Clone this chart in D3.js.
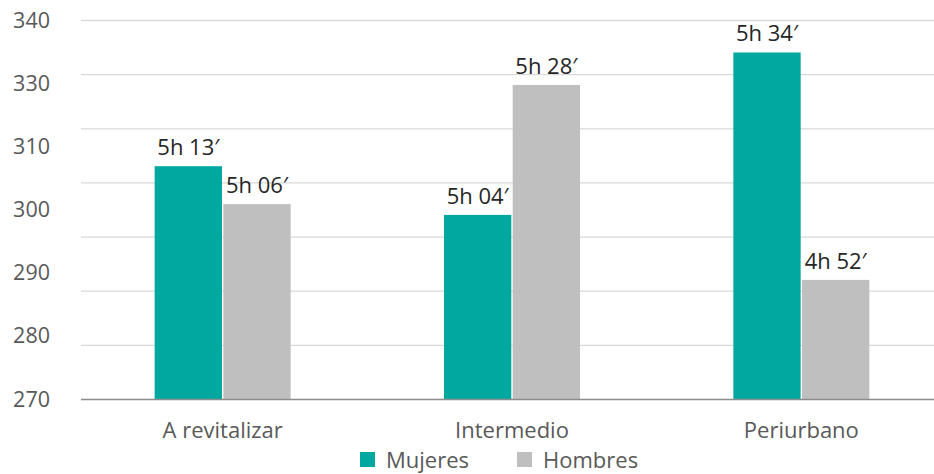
<!DOCTYPE html>
<html><head><meta charset="utf-8">
<script src="https://cdn.jsdelivr.net/npm/d3@7"></script>
<style>body{margin:0;background:#fff;}svg{display:block;font-family:"Open Sans","Noto Sans",sans-serif;}</style>
</head><body><svg id="c" width="934" height="474"></svg>
<script>
const categories = ["A revitalizar", "Intermedio", "Periurbano"];
const series = ["Mujeres", "Hombres"];
const mujeres = [313, 304, 334];
const hombres = [306, 328, 292];
const mujeresLabels = ["5h 13′", "5h 04′", "5h 34′"];
const hombresLabels = ["5h 06′", "5h 28′", "4h 52′"];
const gridValues = [270, 280, 290, 300, 310, 320, 330, 340];
const tickLabels = ["340", "330", "310", "300", "290", "280", "270"];
const colors = ["#00A8A0", "#BFBFBF"];

const svg = d3.select("#c");
const W = 934;
const y = d3.scaleLinear().domain([270, 340]).range([399, 20]);
const x0 = d3.scaleBand().domain(categories).range([78, 946]).paddingInner(0.53).paddingOuter(0.265);
const x1 = d3.scaleBand().domain(series).range([0, x0.bandwidth()]).paddingInner(0.02);

// gridlines
svg.append("g").selectAll("line").data(gridValues.filter(v => v !== 270)).join("line")
  .attr("x1", 81).attr("x2", W).attr("y1", d => y(d) + 0.5).attr("y2", d => y(d) + 0.5)
  .attr("stroke", "#D9D9D9").attr("stroke-width", 1.3);

// tick labels (as in reference, evenly placed)
const yl = d3.scalePoint().domain(tickLabels).range([y(340), y(270)]);
svg.append("g").selectAll("text").data(tickLabels).join("text")
  .attr("x", 50).attr("y", d => yl(d)).attr("dy", "0.35em").attr("text-anchor", "end")
  .attr("font-size", 21.5).attr("fill", "#595959").text(d => d);

const rows = categories.map((c, i) => ({c, vals: [
  {s: "Mujeres", v: mujeres[i], l: mujeresLabels[i]},
  {s: "Hombres", v: hombres[i], l: hombresLabels[i]}]}));

const g = svg.append("g").selectAll("g").data(rows).join("g")
  .attr("transform", d => `translate(${x0(d.c)},0)`);
g.selectAll("rect").data(d => d.vals).join("rect")
  .attr("x", d => x1(d.s)).attr("width", x1.bandwidth())
  .attr("y", d => y(d.v)).attr("height", d => y(270) - y(d.v))
  .attr("fill", (d, i) => colors[i]);
g.selectAll("text").data(d => d.vals).join("text")
  .attr("x", d => x1(d.s) + x1.bandwidth() / 2).attr("y", d => y(d.v) - 11)
  .attr("text-anchor", "middle").attr("font-size", 22).attr("fill", "#262626").text(d => d.l);

// axis line
svg.append("line").attr("x1", 81).attr("x2", W).attr("y1", y(270) + 0.5).attr("y2", y(270) + 0.5)
  .attr("stroke", "#8C8C8C").attr("stroke-width", 1.3);

// category labels
svg.append("g").selectAll("text").data(categories).join("text")
  .attr("x", d => x0(d) + x0.bandwidth() / 2).attr("y", 438).attr("text-anchor", "middle")
  .attr("font-size", 22).attr("fill", "#595959").text(d => d);

// legend
const lg = svg.append("g").selectAll("g").data(series).join("g")
  .attr("transform", (d, i) => `translate(${i === 0 ? 360 : 517},452)`);
lg.append("rect").attr("width", 15).attr("height", 15).attr("fill", (d, i) => colors[i]);
lg.append("text").attr("x", 26).attr("y", 16).attr("font-size", 22).attr("fill", "#595959").text(d => d);
</script></body></html>
